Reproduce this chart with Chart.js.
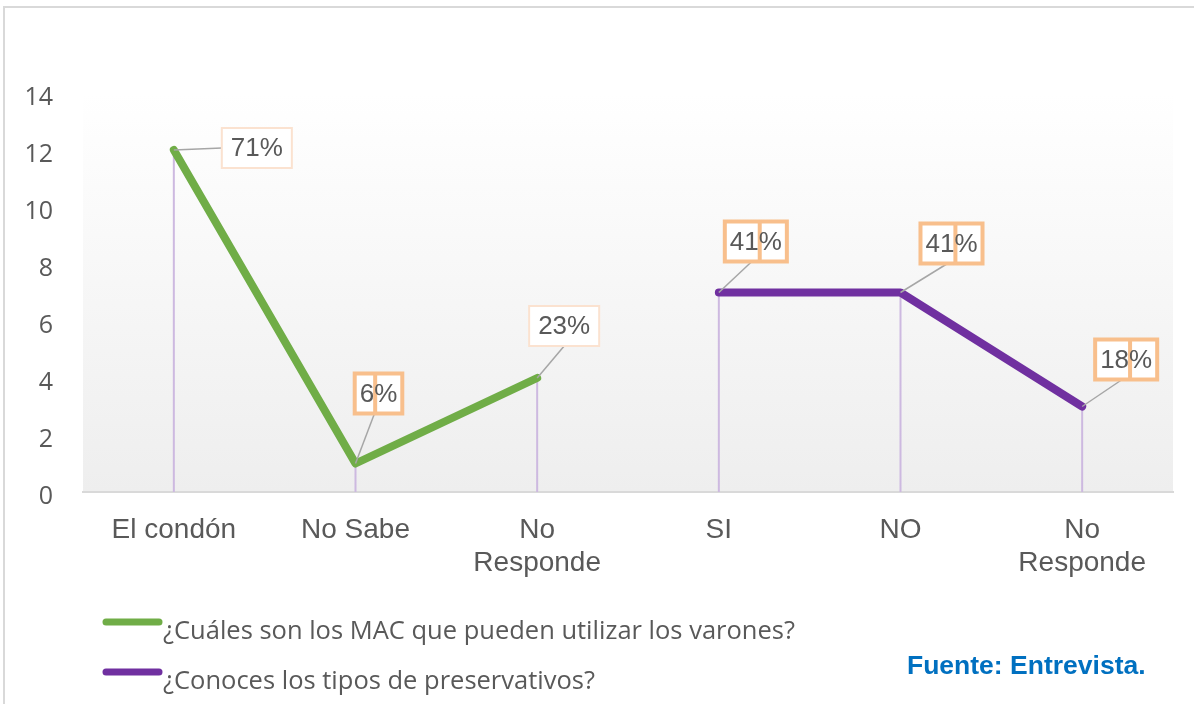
<!DOCTYPE html>
<html>
<head>
<meta charset="utf-8">
<script src="https://cdn.jsdelivr.net/npm/chart.js@4.4.0/dist/chart.umd.min.js"></script>
<style>
  html, body { margin: 0; padding: 0; background: #fff; }
  #box { width: 1194px; height: 704px; }
</style>
</head>
<body>
<div id="box"><canvas id="lineChart" width="1194" height="704"></canvas></div>
<script>
// data
const categories = ['El condón', 'No Sabe', ['No', 'Responde'], 'SI', 'NO', ['No', 'Responde']];
const macValues = [12, 1, 4, null, null, null];
const preservValues = [null, null, null, 7, 7, 3];
const macLabels = ['71%', '6%', '23%', null, null, null];
const preservLabels = [null, null, null, '41%', '41%', '18%'];
const yTicks = { min: 0, max: 14, step: 2 };

const greenColor = '#70ad47';
const purpleColor = '#7030a0';
const textColor = '#595959';

// plot area background + outer frame
const backgroundPlugin = {
    id: 'plotBackground',
    beforeDraw(chart) {
        const { ctx, chartArea } = chart;
        ctx.save();
        ctx.strokeStyle = '#d9d9d9';
        ctx.lineWidth = 2;
        ctx.beginPath();
        ctx.moveTo(4, 704);
        ctx.lineTo(4, 7);
        ctx.lineTo(1194, 7);
        ctx.stroke();
        const grad = ctx.createLinearGradient(0, chartArea.top, 0, chartArea.bottom);
        grad.addColorStop(0, '#ffffff');
        grad.addColorStop(1, '#eeeeee');
        ctx.fillStyle = grad;
        ctx.fillRect(chartArea.left, chartArea.top, chartArea.right - chartArea.left, chartArea.bottom - chartArea.top);
        ctx.restore();
    }
};

// vertical drop lines from each point to the axis
const dropLinePlugin = {
    id: 'dropLines',
    beforeDatasetsDraw(chart) {
        const { ctx, chartArea } = chart;
        ctx.save();
        ctx.strokeStyle = '#cdb9e0';
        ctx.lineWidth = 2;
        chart.data.datasets.forEach(function (ds, i) {
            chart.getDatasetMeta(i).data.forEach(function (pt, j) {
                if (ds.data[j] === null) return;
                ctx.beginPath();
                ctx.moveTo(pt.x, pt.y);
                ctx.lineTo(pt.x, chartArea.bottom);
                ctx.stroke();
            });
        });
        ctx.restore();
    }
};

// boxed value labels with leader lines
const calloutPlugin = {
    id: 'callouts',
    afterDatasetsDraw(chart, args, opts) {
        const { ctx } = chart;
        ctx.save();
        ctx.font = '26px "Liberation Sans", Arial, sans-serif';
        ctx.textBaseline = 'middle';
        chart.data.datasets.forEach(function (ds, i) {
            chart.getDatasetMeta(i).data.forEach(function (pt, j) {
                const text = ds.callouts[j];
                if (!text) return;
                const o = opts.offsets[i][j];
                const cx = pt.x + o[0], cy = pt.y + o[1];
                const strong = o[2];
                const tw = ctx.measureText(text).width;
                const w = tw + (strong ? 10 : 18), h = 40;
                const left = cx - w / 2, top = cy - h / 2;
                // leader
                ctx.strokeStyle = '#a6a6a6';
                ctx.lineWidth = 1.5;
                ctx.beginPath();
                ctx.moveTo(pt.x, pt.y);
                if (o[1] > -20) {
                    ctx.quadraticCurveTo(pt.x + 25, pt.y - 1, left, cy);
                } else {
                    ctx.lineTo(cx - (strong ? 4 : 0), top + h);
                }
                ctx.stroke();
                // box
                ctx.fillStyle = '#ffffff';
                ctx.fillRect(left, top, w, h);
                if (strong) {
                    ctx.strokeStyle = '#f8bf8c';
                    ctx.lineWidth = 4;
                } else {
                    ctx.strokeStyle = '#fbe2d0';
                    ctx.lineWidth = 2;
                }
                ctx.strokeRect(left, top, w, h);
                const tx = left + (w - tw) / 2;
                if (strong) {
                    const num = text.replace('%', '');
                    const dx = tx + ctx.measureText(num).width + 1;
                    ctx.fillStyle = '#f8bf8c';
                    ctx.fillRect(dx - 2, top, 4, h);
                }
                ctx.fillStyle = textColor;
                ctx.textAlign = 'left';
                ctx.fillText(text, tx, cy + 1);
            });
        });
        ctx.restore();
    }
};

// legend at the bottom plus source note
const footerPlugin = {
    id: 'footer',
    afterDraw(chart) {
        const { ctx } = chart;
        ctx.save();
        chart.data.datasets.forEach(function (ds, i) {
            const y = 622 + i * 50;
            ctx.strokeStyle = ds.borderColor;
            ctx.lineWidth = 7;
            ctx.lineCap = 'round';
            ctx.beginPath();
            ctx.moveTo(106, y);
            ctx.lineTo(159, y);
            ctx.stroke();
            ctx.fillStyle = textColor;
            ctx.font = '25.5px "Open Sans", sans-serif';
            ctx.textBaseline = 'alphabetic';
            ctx.fillText(ds.label, 163, y + 17);
        });
        ctx.fillStyle = '#0070c0';
        ctx.font = 'bold 26.5px "Liberation Sans", Arial, sans-serif';
        ctx.fillText('Fuente: Entrevista.', 907, 674);
        ctx.restore();
    }
};

const lineChart = document.getElementById('lineChart');
if (lineChart) {
    const lineChartVar = new Chart(lineChart, {
        type: 'line',
        data: {
            labels: categories,
            datasets: [
                {
                    label: '¿Cuáles son los MAC que pueden utilizar los varones?',
                    data: macValues,
                    callouts: macLabels,
                    borderColor: greenColor,
                    backgroundColor: greenColor,
                    borderWidth: 8,
                    borderCapStyle: 'round',
                    borderJoinStyle: 'round',
                    pointRadius: 0,
                    spanGaps: false
                },
                {
                    label: '¿Conoces los tipos de preservativos?',
                    data: preservValues,
                    callouts: preservLabels,
                    borderColor: purpleColor,
                    backgroundColor: purpleColor,
                    borderWidth: 8,
                    borderCapStyle: 'round',
                    borderJoinStyle: 'round',
                    pointRadius: 0,
                    spanGaps: false
                }
            ]
        },
        options: {
            responsive: false,
            animation: false,
            layout: {
                padding: { top: 93, right: 21, left: 0, bottom: 0 }
            },
            plugins: {
                legend: { display: false },
                tooltip: { enabled: false },
                callouts: {
                    offsets: [
                        [[83, -2, false], [23, -70, true], [27, -52, false], null, null, null],
                        [null, null, null, [37, -51, true], [51, -49, true], [44, -47, true]]
                    ]
                }
            },
            scales: {
                x: {
                    offset: true,
                    grid: { display: false },
                    border: { color: '#d9d9d9', width: 2 },
                    ticks: {
                        color: textColor,
                        font: { family: '"Liberation Sans", Arial, sans-serif', size: 28, lineHeight: 1.2 },
                        padding: 13,
                        maxRotation: 0,
                        autoSkip: false
                    },
                    afterFit: function (scale) { scale.height = 704 - 93 - 399; }
                },
                y: {
                    min: yTicks.min,
                    max: yTicks.max,
                    grid: { display: false },
                    border: { display: false },
                    ticks: {
                        stepSize: yTicks.step,
                        color: textColor,
                        font: { family: '"Open Sans", sans-serif', size: 25 },
                        padding: 22,
                        labelOffset: 5
                    },
                    afterFit: function (scale) { scale.width = 83; }
                }
            }
        },
        plugins: [backgroundPlugin, dropLinePlugin, calloutPlugin, footerPlugin]
    });
}
</script>
</body>
</html>
